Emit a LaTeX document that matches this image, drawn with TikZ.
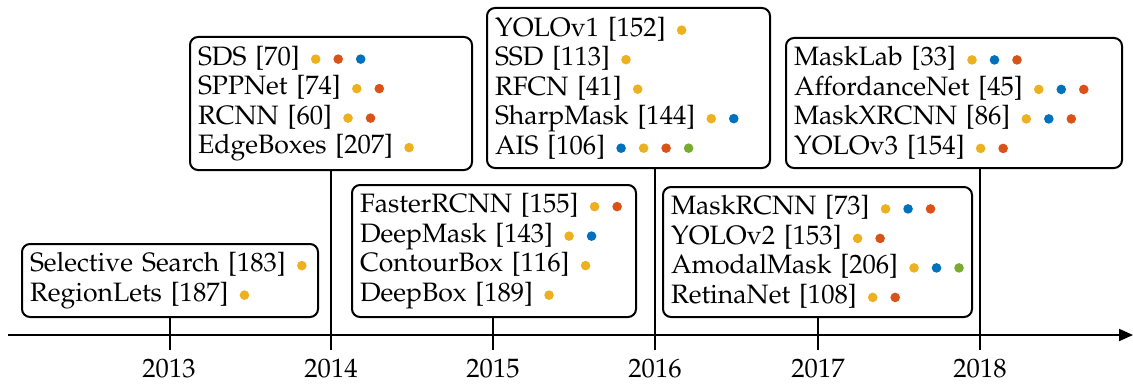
\documentclass[tikz,border=0pt]{standalone}
\usepackage[T1]{fontenc}
\usepackage{mathpazo}
\usetikzlibrary{arrows.meta}
\definecolor{cY}{HTML}{EDB120}
\definecolor{cR}{HTML}{D95319}
\definecolor{cB}{HTML}{0072BD}
\definecolor{cG}{HTML}{77AC30}
\newcommand\dotf[1]{\hspace{5.6pt}\tikz[baseline=-3pt]\fill[#1] (0,0) circle (2.4pt);}
\newcommand\dotn[1]{\hspace{6.45pt}\tikz[baseline=-3pt]\fill[#1] (0,0) circle (2.4pt);}
\tikzset{
  yearbox/.style={draw, line width=1pt, rounded corners=4pt, align=left,
    inner xsep=4pt, inner ysep=0pt, anchor=center,
    font=\fontsize{13.3}{14.75}\selectfont},
  tickline/.style={line width=1pt},
  yearlabel/.style={font=\fontsize{13.3}{14}\selectfont, inner sep=0pt}
}
\begin{document}
\begin{tikzpicture}[x=0.5pt,y=-0.5pt]
\useasboundingbox (0,0) rectangle (1133,385);
% axis
\coordinate (a0) at (8,335);
\coordinate (a1) at (1133,335);
\draw[line width=1pt,-{Triangle[length=7pt,width=6pt]}] (a0) -- (a1);
% tick ends
\coordinate (e13) at (170,350);
\coordinate (e14) at (331,350);
\coordinate (e15) at (493,350);
\coordinate (e16) at (655,350);
\coordinate (e17) at (818,350);
\coordinate (e18) at (980,350);
% boxes
\node[yearbox, text width=140pt, minimum height=36.5pt] (b13) at (170,280.5)
 {\mbox{Selective Search [183]\dotf{cY}}\\\mbox{RegionLets [187]\dotf{cY}}};
\node[yearbox, text width=133pt, minimum height=66.5pt] (b14) at (331,103.5)
 {\mbox{SDS [70]\dotf{cY}\dotn{cR}\dotn{cB}}\\\mbox{SPPNet [74]\dotf{cY}\dotn{cR}}\\\mbox{RCNN [60]\dotf{cY}\dotn{cR}}\\\mbox{EdgeBoxes [207]\dotf{cY}}};
\node[yearbox, text width=134pt, minimum height=66pt] (b15) at (494,251)
 {\mbox{FasterRCNN [155]\dotf{cY}\dotn{cR}}\\\mbox{DeepMask [143]\dotf{cY}\dotn{cB}}\\\mbox{ContourBox [116]\dotf{cY}}\\\mbox{DeepBox [189]\dotf{cY}}};
\node[yearbox, text width=133.5pt, minimum height=80pt] (b16) at (628.5,88)
 {\mbox{YOLOv1 [152]\dotf{cY}}\\\mbox{SSD [113]\dotf{cY}}\\\mbox{RFCN [41]\dotf{cY}}\\\mbox{SharpMask [144]\dotf{cY}\dotn{cB}}\\\mbox{AIS [106]\dotf{cB}\dotn{cY}\dotn{cR}\dotn{cG}}};
\node[yearbox, text width=146.5pt, minimum height=65pt] (b17) at (817.5,252)
 {\mbox{MaskRCNN [73]\dotf{cY}\dotn{cB}\dotn{cR}}\\\mbox{YOLOv2 [153]\dotf{cY}\dotn{cR}}\\\mbox{AmodalMask [206]\dotf{cY}\dotn{cB}\dotn{cG}}\\\mbox{RetinaNet [108]\dotf{cY}\dotn{cR}}};
\node[yearbox, text width=160pt, minimum height=65pt] (b18) at (954,103)
 {\mbox{MaskLab [33]\dotf{cY}\dotn{cB}\dotn{cR}}\\\mbox{AffordanceNet [45]\dotf{cY}\dotn{cB}\dotn{cR}}\\\mbox{MaskXRCNN [86]\dotf{cY}\dotn{cB}\dotn{cR}}\\\mbox{YOLOv3 [154]\dotf{cY}\dotn{cR}}};
% connectors
\draw[tickline] (b13.south -| e13) -- (e13);
\draw[tickline] (b14.south -| e14) -- (e14);
\draw[tickline] (b15.south -| e15) -- (e15);
\draw[tickline] (b16.south -| e16) -- (e16);
\draw[tickline] (b17.south -| e17) -- (e17);
\draw[tickline] (b18.south -| e18) -- (e18);
% years
\node[yearlabel] (y13) at (169,369) {2013};
\node[yearlabel] (y14) at (331,369) {2014};
\node[yearlabel] (y15) at (493,369) {2015};
\node[yearlabel] (y16) at (655,369) {2016};
\node[yearlabel] (y17) at (818,369) {2017};
\node[yearlabel] (y18) at (980,369) {2018};
\end{tikzpicture}
\end{document}
